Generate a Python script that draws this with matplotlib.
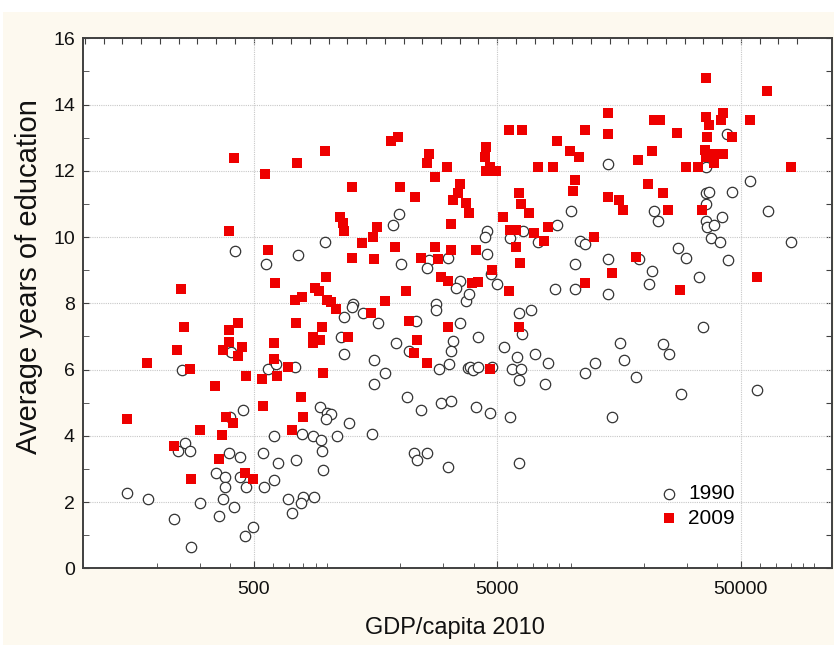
import matplotlib
matplotlib.use("Agg")
import matplotlib.pyplot as plt
import numpy as np
from matplotlib.patches import Rectangle
from matplotlib.ticker import FixedLocator, NullLocator, NullFormatter, FixedFormatter

plt.rcParams['font.family'] = ['Liberation Sans', 'DejaVu Sans']

# -----------------------------
# Data
# -----------------------------
gdp_1990 = [404, 253, 574, 619, 452, 400, 606, 262, 245, 274, 397, 438, 546, 630, 349, 380, 438, 382,
            466, 550, 608, 151, 185, 302, 375, 414, 235, 361, 497, 460, 277,
            418, 560,
            1980, 1860, 985, 760, 2005, 2630, 2565, 3150, 3510, 3400,
            3740, 1275, 1265, 1175, 1400, 1620, 2320, 2810, 2810, 3530, 3300, 3240, 3160, 2880, 3790,
            1140, 1170, 1915, 2170, 1555, 1730, 1560, 740, 2125, 2430, 2935, 3240, 935, 1003, 1035,
            995, 1230, 791, 874, 945, 955, 1095, 1525, 750, 965, 2280, 2345, 2580, 3140, 694, 800,
            885, 780, 722,
            14200, 22100, 22900, 10000, 8800, 4530, 4470, 6380, 5630, 7360, 10900, 11500, 4530,
            10450, 14200, 19100, 21600, 21000, 4720, 4970, 8600, 10380,
            3830, 14200, 6160, 6860, 6310, 4150, 5320, 6040, 7120, 8100, 3850, 3960, 4180, 4770,
            5730, 6260, 6120, 7850, 11500, 12540, 15900, 16600, 18500, 24000, 4110, 4670, 5620,
            14800, 6160,
            44000, 35800, 54600, 35800, 37100, 46100, 35800, 64500, 41700, 35800, 36400, 38900,
            37600, 40900, 80500, 27600, 29900, 44400, 33700,
            34800, 25300, 28300, 58300]
edu_1990 = [6.54, 5.99, 6.01, 6.17, 4.78, 4.58, 3.99, 3.77, 3.55, 3.55, 3.49, 3.37, 3.49, 3.17, 2.89,
            2.77, 2.77, 2.46, 2.46, 2.46, 2.67, 2.26, 2.08, 1.98, 2.08, 1.86, 1.48, 1.58, 1.26, 0.98,
            0.65,
            9.58, 9.18,
            10.70, 10.36, 9.86, 9.46, 9.18, 9.31, 9.07, 9.36, 8.68, 8.45,
            8.08, 7.98, 7.88, 7.58, 7.70, 7.40, 7.47, 7.98, 7.80, 7.40, 6.87, 6.57, 6.17, 6.01, 6.04,
            6.97, 6.47, 6.79, 6.57, 6.29, 5.89, 5.56, 6.07, 5.18, 4.78, 5.00, 5.06, 4.88, 4.70, 4.66,
            4.50, 4.38, 4.05, 3.99, 3.87, 3.55, 3.99, 4.05, 3.27, 2.97, 3.49, 3.27, 3.49, 3.05, 2.08,
            2.16, 2.16, 1.96, 1.66,
            12.20, 10.80, 10.48, 10.80, 10.36, 10.19, 9.99, 10.19, 9.96, 9.85, 9.88, 9.79, 9.49,
            9.19, 9.35, 9.35, 8.98, 8.58, 8.88, 8.58, 8.43, 8.43,
            8.28, 8.28, 7.70, 7.80, 7.07, 6.97, 6.67, 6.39, 6.47, 6.19, 6.07, 5.99, 6.07, 6.07,
            6.01, 6.01, 5.68, 5.56, 5.89, 6.19, 6.79, 6.29, 5.78, 6.77, 4.88, 4.68, 4.58,
            4.58, 3.17,
            13.11, 12.12, 11.70, 11.32, 11.37, 11.37, 11.00, 10.80, 10.60, 10.49, 10.29, 10.36,
            9.96, 9.86, 9.86, 9.68, 9.36, 9.31, 8.78,
            7.28, 6.46, 5.26, 5.38]

gdp_2009 = [252, 610, 258, 431, 395, 395, 242, 375, 449, 431, 604, 604, 183, 273, 464, 541, 623, 348,
            546, 151, 384, 411, 300, 372, 235, 359, 459, 497, 276,
            415, 558, 397, 572,
            755, 980, 1840, 1960, 2620, 2565, 3120, 2790, 1265, 1990, 2290, 3510, 3440, 3280, 3710,
            3820, 1130, 1165, 1170, 1600, 1545, 1395, 3230, 1900, 2790, 3230, 1265, 1560, 2430, 2860,
            990, 897, 928, 2120, 2940, 3140, 3930, 4180,
            740, 787, 997, 1035, 1085, 1730, 1510, 2170, 3130, 750, 950, 874, 940, 880, 1220, 2350,
            2280, 2565, 694, 960, 780, 795, 722,
            14200, 14200, 22000, 5600, 6310, 11480, 8810, 4500, 9935, 10830, 21500, 18840, 4440,
            4670, 4500, 4940, 7360, 8500, 10400, 10250, 20850, 6120, 6240, 6780, 14200, 15830, 16450,
            5290, 5620, 5990, 7070, 8060, 7780, 5990, 12500, 4100, 6230, 18500, 4770, 14780, 5600,
            11450,
            6120, 4650,
            35800, 64200, 23200, 35800, 37000, 41300, 42100, 54450, 27400, 36300, 46060, 35600,
            35900, 39000, 42100, 38700, 33500, 29700, 80000, 24000, 25200, 34700, 58000, 28200]
edu_2009 = [8.43, 8.60, 7.29, 7.41, 7.19, 6.82, 6.59, 6.59, 6.69, 6.41, 6.81, 6.31, 6.19, 6.01, 5.81,
            5.71, 5.81, 5.50, 4.90, 4.50, 4.58, 4.40, 4.18, 4.02, 3.69, 3.29, 2.89, 2.69, 2.69,
            12.40, 11.89, 10.19, 9.61,
            12.23, 12.61, 12.91, 13.01, 12.51, 12.23, 12.12, 11.82, 11.50, 11.50, 11.20, 11.60, 11.32,
            11.12, 11.03, 10.74, 10.61, 10.42, 10.17, 10.31, 10.01, 9.81, 10.39, 9.71, 9.71, 9.61,
            9.38, 9.33, 9.38, 9.33, 8.80, 8.45, 8.36, 8.36, 8.78, 8.67, 8.60, 8.65,
            8.10, 8.20, 8.10, 8.05, 7.82, 8.08, 7.70, 7.47, 7.29, 7.41, 7.29, 6.97, 6.89, 6.79, 6.97,
            6.89, 6.49, 6.19, 6.09, 5.89, 5.18, 4.58, 4.18,
            13.74, 13.11, 13.53, 13.23, 13.23, 13.23, 12.91, 12.73, 12.61, 12.41, 12.61, 12.33,
            12.41, 12.12, 12.00, 12.00, 12.12, 12.12, 11.72, 11.39, 11.60, 11.34, 11.00, 10.72,
            11.22, 11.12, 10.82, 10.60, 10.21, 10.21, 10.11, 10.31, 9.89, 9.71, 10.01, 9.61, 9.21,
            9.39, 9.01, 8.92, 8.36, 8.60,
            7.29, 6.01,
            14.79, 14.41, 13.53, 13.62, 13.38, 13.53, 13.74, 13.53, 13.13, 13.01, 13.01, 12.63,
            12.43, 12.51, 12.51, 12.23, 12.12, 12.12, 12.12, 11.34, 10.82, 10.82, 8.80, 8.40]

x_ticks = [500, 5000, 50000]
x_ticklabels = ["500", "5000", "50000"]
y_ticks = [0, 2, 4, 6, 8, 10, 12, 14, 16]

# -----------------------------
# Figure
# -----------------------------
fig = plt.figure(figsize=(8.34, 6.45), dpi=100, facecolor='#fdf9ef')
fig.patches.append(Rectangle((0, 1 - 12 / 645), 1, 12 / 645, transform=fig.transFigure,
                             facecolor='white', edgecolor='none', zorder=0))
fig.patches.append(Rectangle((0, 0), 3 / 834, 1, transform=fig.transFigure,
                             facecolor='white', edgecolor='none', zorder=0))

ax = fig.add_axes([83.3 / 834, 1 - 568.3 / 645, (831.7 - 83.3) / 834, (568.3 - 38.3) / 645])
ax.set_facecolor('white')
ax.set_xscale('log')
ax.set_xlim(100, 118000)
ax.set_ylim(0, 16)

# ticks
minor_x = [m * 10 ** k for k in range(2, 6) for m in range(1, 10)]
minor_x = [v for v in minor_x if v not in x_ticks]
ax.xaxis.set_major_locator(FixedLocator(x_ticks))
ax.xaxis.set_major_formatter(FixedFormatter(x_ticklabels))
ax.xaxis.set_minor_locator(FixedLocator(minor_x))
ax.xaxis.set_minor_formatter(NullFormatter())
ax.yaxis.set_major_locator(FixedLocator(y_ticks))
ax.yaxis.set_minor_locator(FixedLocator(range(1, 16, 2)))

ax.tick_params(which='both', direction='in', color='#404040', labelsize=14, labelcolor='#111111')
ax.tick_params(axis='x', which='major', length=5, pad=9)
ax.tick_params(axis='x', which='minor', length=3.5)
ax.tick_params(axis='y', which='both', length=4, pad=6)

ax.grid(True, which='major', linestyle=(0, (1, 1)), color='#c8c8c8', linewidth=0.8)
ax.set_axisbelow(True)

for sp in ax.spines.values():
    sp.set_color('#404040')
    sp.set_linewidth(1.4)

# top axis: evenly spaced ticks (13 per decade)
top = ax.secondary_xaxis('top')
top_pos = [500 * 10 ** (k / 13) for k in range(-9, 30)]
top_pos = [v for v in top_pos if 100 < v < 118000]
top.xaxis.set_major_locator(FixedLocator(top_pos))
top.xaxis.set_minor_locator(NullLocator())
top.tick_params(direction='in', length=4, color='#404040', labeltop=False)
top.spines['top'].set_visible(False)

right = ax.secondary_yaxis('right')
right.yaxis.set_major_locator(FixedLocator(range(0, 17)))
right.tick_params(direction='in', length=4, color='#404040', labelright=False)
right.spines['right'].set_visible(False)

# scatter
ax.scatter(gdp_1990, edu_1990, s=56, marker='o', facecolors='white', edgecolors='#333333',
           linewidths=0.9, label='1990', zorder=3)
ax.scatter(gdp_2009, edu_2009, s=58, marker='s', color='#ee0000', linewidths=0,
           label='2009', zorder=4)

ax.set_xlabel('GDP/capita 2010', fontsize=17, color='#111111', va='center')
ax.xaxis.set_label_coords(0.496, -0.113)
ax.set_ylabel('Average years of education', fontsize=21, color='#111111', va='center')
ax.yaxis.set_label_coords(-0.072, 0.55)

ax.legend(loc='lower left', bbox_to_anchor=(0.769, 0.0766), frameon=False, fontsize=15,
          handletextpad=0.4, labelspacing=0.25, borderpad=0, borderaxespad=0,
          handlelength=1.0, scatterpoints=1)

fig.savefig('out.png', dpi=100, facecolor=fig.get_facecolor())
